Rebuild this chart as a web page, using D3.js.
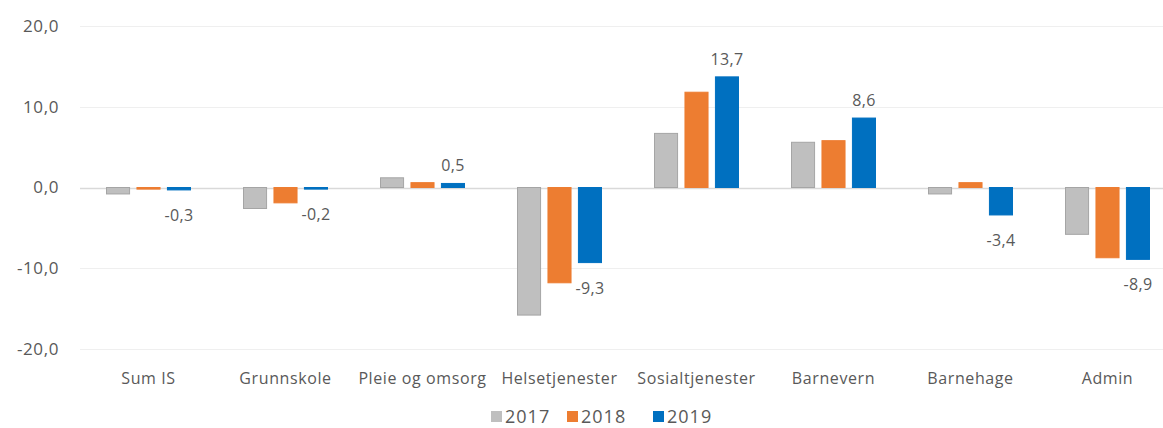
<!DOCTYPE html>
<html>
<head>
<meta charset="utf-8">
<script src="https://cdn.jsdelivr.net/npm/d3@7"></script>
<style>
  body { margin: 0; background: #fff; }
  svg text { font-family: "Open Sans", Lato, sans-serif; fill: #595959; }
</style>
</head>
<body>
<div id="chart"></div>
<script>
var width = 1163;
var height = 428;

// data
var categories = ["Sum IS", "Grunnskole", "Pleie og omsorg", "Helsetjenester", "Sosialtjenester", "Barnevern", "Barnehage", "Admin"];
var years = ["2017", "2018", "2019"];
var v2017 = [-0.8, -2.6, 1.2, -15.8, 6.7, 5.6, -0.8, -5.8];
var v2018 = [-0.2, -1.9, 0.6, -11.8, 11.8, 5.8, 0.6, -8.7];
var v2019 = [-0.3, -0.2, 0.5, -9.3, 13.7, 8.6, -3.4, -8.9];
var yTicks = [-20, -10, 0, 10, 20];
var colors = ["#bfbfbf", "#ed7d31", "#0070c0"];
var strokes = ["#a5a5a5", "#ed7d31", "#0070c0"];

var series = [v2017, v2018, v2019];
var rows = categories.map(function(c, i) {
    return { cat: c, values: years.map(function(y, j) { return { year: y, j: j, value: series[j][i] }; }) };
});

var svg = d3.select("#chart").append("svg")
    .attr("width", width)
    .attr("height", height);

var x0 = d3.scaleBand().domain(categories).range([80, 1176]);
var x1 = d3.scaleBand().domain(years).range([0, 85]).paddingInner(0.21);
var y = d3.scaleLinear().domain([-20, 20]).range([349, 26]);
var groupOffset = (x0.bandwidth() - 85) / 2;

// gridlines
svg.append("g")
    .selectAll("line")
    .data(yTicks)
    .enter()
    .append("line")
    .attr("x1", 80)
    .attr("x2", width)
    .attr("y1", function(d) { return Math.round(y(d)) + 0.5; })
    .attr("y2", function(d) { return Math.round(y(d)) + 0.5; })
    .attr("stroke", function(d) { return d == 0 ? "#d9d9d9" : "#efefef"; })
    .attr("stroke-width", function(d) { return d == 0 ? 1.5 : 1; });

// y axis labels
var fmt = function(d) { return d3.format(".1f")(d).replace(".", ",").replace("−", "-"); };
svg.append("g")
    .selectAll("text")
    .data(yTicks)
    .enter()
    .append("text")
    .attr("x", 59)
    .attr("y", function(d) { return y(d); })
    .attr("dy", "0.35em")
    .attr("text-anchor", "end")
    .style("font-size", "17px")
    .style("letter-spacing", "0.6px")
    .text(fmt);

// bars
var groups = svg.append("g")
    .selectAll("g")
    .data(rows)
    .enter()
    .append("g")
    .attr("transform", function(d) { return "translate(" + (x0(d.cat) + groupOffset) + ",0)"; });

groups.selectAll("rect")
    .data(function(d) { return d.values; })
    .enter()
    .append("rect")
    .attr("x", function(d) { return x1(d.year) + 0.5; })
    .attr("y", function(d) { return Math.min(y(d.value), y(0)); })
    .attr("width", x1.bandwidth() - 1)
    .attr("height", function(d) { return Math.abs(y(d.value) - y(0)); })
    .attr("fill", function(d) { return colors[d.j]; })
    .attr("stroke", function(d) { return strokes[d.j]; })
    .attr("stroke-width", 1);

// value labels for 2019
groups.append("text")
    .attr("x", function(d) { return x1("2019") + x1.bandwidth() / 2; })
    .attr("y", function(d) {
        var v = d.values[2].value;
        return v >= 0 ? y(v) - 12 : y(v) + 31;
    })
    .attr("text-anchor", "middle")
    .style("font-size", "16px")
    .style("letter-spacing", "0.3px")
    .text(function(d) { return fmt(d.values[2].value); });

// category labels
svg.append("g")
    .selectAll("text")
    .data(categories)
    .enter()
    .append("text")
    .attr("x", function(d) { return x0(d) + x0.bandwidth() / 2; })
    .attr("y", 384)
    .attr("text-anchor", "middle")
    .style("font-size", "16px")
    .style("letter-spacing", "0.6px")
    .text(function(d) { return d; });

// legend
var legendX = [491, 567, 653];
var legend = svg.append("g")
    .selectAll("g")
    .data(years)
    .enter()
    .append("g")
    .attr("transform", function(d, i) { return "translate(" + legendX[i] + ",411)"; });
legend.append("rect")
    .attr("width", 11)
    .attr("height", 11)
    .attr("fill", function(d, i) { return colors[i]; });
legend.append("text")
    .attr("x", 14)
    .attr("y", 6)
    .attr("dy", "0.35em")
    .style("font-size", "18px")
    .style("letter-spacing", "1px")
    .text(function(d) { return d; });
</script>
</body>
</html>
